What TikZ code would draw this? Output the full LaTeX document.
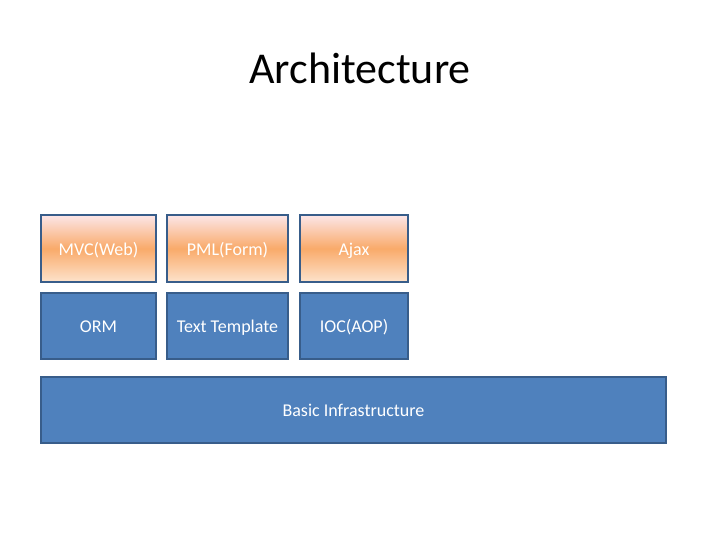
\documentclass[tikz,border=0pt]{standalone}
\usepackage{fontspec}
\setmainfont{Carlito}
\definecolor{boxblue}{HTML}{4F81BD}
\definecolor{edgeblue}{HTML}{385D8A}
\definecolor{topc}{HTML}{FCE6E8}
\definecolor{midc}{HTML}{F9AA6A}
\definecolor{botc}{HTML}{FDE3CC}
\begin{document}
\begin{tikzpicture}[x=1pt,y=-1pt,
  txt/.style={text=white,font=\fontsize{18}{21}\selectfont,inner sep=0pt,text height=14pt,text depth=1pt},
  blockbox/.style={txt,draw=edgeblue,line width=1.3pt,fill=boxblue},
  gradbox/.style={txt,draw=edgeblue,line width=1.3pt,top color=topc,bottom color=botc,middle color=midc}]
\useasboundingbox (0,0) rectangle (720,540);
\fill[white] (0,0) rectangle (720,540);
\node (title) at (360,68) {\fontsize{44}{52}\selectfont Architecture};
\node[gradbox,minimum width=115pt,minimum height=67pt] (mvc) at (98.5,248.5) {MVC(Web)};
\node[gradbox,minimum width=121pt,minimum height=67pt] (pml) at (227.5,248.5) {PML(Form)};
\node[gradbox,minimum width=108pt,minimum height=67pt] (ajax) at (354,248.5) {Ajax};
\node[blockbox,minimum width=115pt,minimum height=66pt] (orm) at (98.5,326) {ORM};
\node[blockbox,minimum width=121pt,minimum height=66pt] (tt) at (227.5,326) {Text Template};
\node[blockbox,minimum width=108pt,minimum height=66pt] (ioc) at (354,326) {IOC(AOP)};
\node[blockbox,minimum width=625pt,minimum height=66pt] (basic) at (353.5,410) {Basic Infrastructure};
\end{tikzpicture}
\end{document}
